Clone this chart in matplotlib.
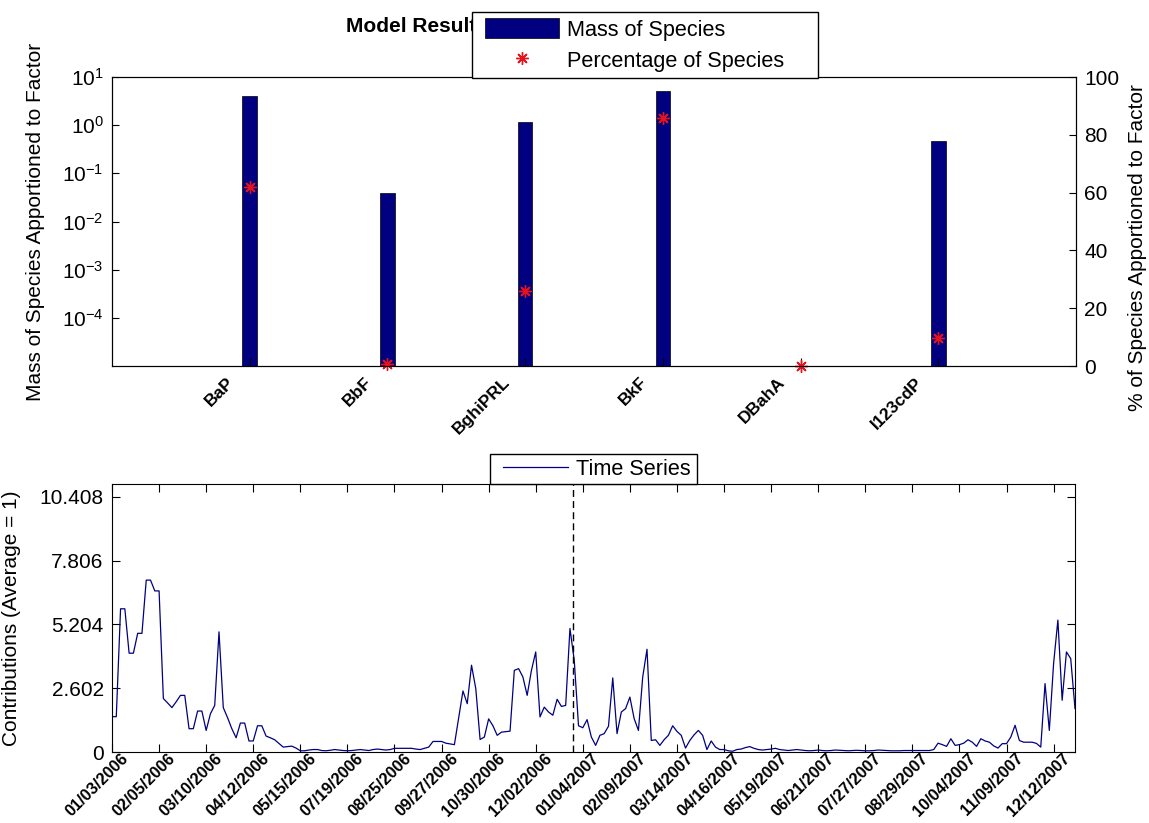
import matplotlib
matplotlib.use('Agg')
import matplotlib.pyplot as plt
import matplotlib.transforms as mtransforms
from matplotlib.legend_handler import HandlerPatch, HandlerLine2D
import numpy as np

plt.rcParams['font.family'] = ['Liberation Sans', 'DejaVu Sans']
plt.rcParams['mathtext.default'] = 'regular'

# ---------------- data ----------------
species = ['BaP', 'BbF', 'BghiPRL', 'BkF', 'DBahA', 'I123cdP']
mass_of_species = [4.0, 0.039, 1.19, 5.0, 0.0, 0.47]
percent_of_species = [62.0, 0.6, 26.0, 85.9, 0.0, 9.6]

date_labels = ['01/03/2006', '02/05/2006', '03/10/2006', '04/12/2006', '05/15/2006',
               '07/19/2006', '08/25/2006', '09/27/2006', '10/30/2006', '12/02/2006',
               '01/04/2007', '02/09/2007', '03/14/2007', '04/16/2007', '05/19/2007',
               '06/21/2007', '07/27/2007', '08/29/2007', '10/04/2007', '11/09/2007',
               '12/12/2007']
tick_step = 11

contributions = [
    1.44, 1.44, 5.84, 5.84, 4.03, 4.03, 4.84, 4.84, 7.01, 7.01,
    6.57, 6.57, 2.18, 2.00, 1.81, 2.05, 2.31, 2.31, 0.95, 0.95,
    1.67, 1.67, 0.88, 1.56, 1.90, 4.90, 1.81, 1.40, 0.95, 0.58,
    1.18, 1.18, 0.45, 0.45, 1.07, 1.07, 0.65, 0.58, 0.50, 0.35,
    0.20, 0.22, 0.24, 0.16, 0.05, 0.05, 0.08, 0.10, 0.10, 0.06,
    0.05, 0.07, 0.10, 0.08, 0.06, 0.05, 0.06, 0.08, 0.10, 0.08,
    0.06, 0.10, 0.12, 0.10, 0.08, 0.10, 0.15, 0.15, 0.15, 0.15,
    0.15, 0.12, 0.10, 0.15, 0.20, 0.43, 0.43, 0.43, 0.36, 0.33,
    0.30, 1.40, 2.49, 1.97, 3.54, 2.58, 0.51, 0.61, 1.35, 1.07,
    0.68, 0.81, 0.83, 0.85, 3.33, 3.40, 3.06, 2.31, 3.33, 4.08,
    1.43, 1.83, 1.63, 1.50, 2.15, 1.86, 1.90, 5.04, 3.74, 1.07,
    0.99, 1.32, 0.61, 0.27, 0.68, 0.75, 1.05, 3.02, 0.75, 1.63,
    1.77, 2.24, 1.36, 0.88, 3.06, 4.19, 0.47, 0.50, 0.27, 0.50,
    0.68, 1.07, 0.84, 0.68, 0.16, 0.47, 0.70, 0.88, 0.68, 0.10,
    0.45, 0.20, 0.10, 0.10, 0.05, 0.03, 0.10, 0.12, 0.18, 0.22,
    0.15, 0.10, 0.08, 0.10, 0.12, 0.15, 0.10, 0.08, 0.06, 0.08,
    0.10, 0.08, 0.06, 0.05, 0.06, 0.08, 0.06, 0.05, 0.06, 0.08,
    0.07, 0.06, 0.05, 0.06, 0.07, 0.06, 0.05, 0.05, 0.06, 0.08,
    0.07, 0.06, 0.05, 0.05, 0.05, 0.06, 0.06, 0.06, 0.06, 0.06,
    0.06, 0.06, 0.10, 0.36, 0.30, 0.23, 0.54, 0.27, 0.30, 0.36,
    0.50, 0.40, 0.23, 0.54, 0.45, 0.40, 0.25, 0.16, 0.34, 0.34,
    0.61, 1.09, 0.47, 0.40, 0.40, 0.40, 0.35, 0.20, 2.79, 0.88,
    3.61, 5.38, 2.11, 4.08, 3.81, 1.77,
]
year_break = 108.6
contrib_yticks = [0, 2.602, 5.204, 7.806, 10.408]
contrib_ylabels = ['0', '2.602', '5.204', '7.806', '10.408']

# ---------------- figure ----------------
W, H = 1149, 823
fig = plt.figure(figsize=(W / 100, H / 100), dpi=100)
navy = '#000080'
fs = 15
lfs = 15.6


def shift_labels(labels, dx_px, dy_px=0):
    off = mtransforms.ScaledTranslation(dx_px / 100, -dy_px / 100, fig.dpi_scale_trans)
    for lab in labels:
        lab.set_transform(lab.get_transform() + off)


# ---- top panel ----
ax1 = fig.add_axes([112 / W, 1 - 366 / H, 964 / W, 289 / H])
ax1.set_yscale('log')
xpos = np.arange(1, len(species) + 1)
bars = ax1.bar(xpos, mass_of_species, width=0.105, color=navy,
               edgecolor='black', linewidth=0.5)
ax1.set_ylim(1e-5, 10)
ax1.set_xlim(0, 7)
ax1.set_yticks([1e-4, 1e-3, 1e-2, 1e-1, 1e0, 1e1])
ax1.set_yticklabels(['$10^{-4}$', '$10^{-3}$', '$10^{-2}$', '$10^{-1}$',
                     '$10^{0}$', '$10^{1}$'])
ax1.yaxis.set_minor_locator(matplotlib.ticker.NullLocator())
ax1.set_xticks(xpos)
ax1.set_xticklabels(species, rotation=45, ha='right', va='center',
                    rotation_mode='anchor', fontsize=12.5, fontweight='bold')
ax1.tick_params(axis='x', direction='in', length=6, pad=10, top=False)
ax1.tick_params(axis='y', direction='in', length=5, labelsize=fs, pad=6)
shift_labels(ax1.get_xticklabels(), -18)
ax1.set_ylabel('Mass of Species Apportioned to Factor', fontsize=fs)
ax1.yaxis.set_label_coords(-0.07, 0.5)

ax1r = ax1.twinx()
stars, = ax1r.plot(xpos, percent_of_species, linestyle='none',
                   marker=(8, 2, 0), markersize=9, color='#e8101a',
                   markeredgewidth=1.0, clip_on=False)
ax1r.set_ylim(0, 100)
ax1r.set_yticks([0, 20, 40, 60, 80, 100])
ax1r.tick_params(axis='y', direction='in', length=5, labelsize=fs, pad=6)
ax1r.set_ylabel('% of Species Apportioned to Factor', fontsize=fs)
ax1r.yaxis.set_label_coords(1.054, 0.41)

for a in (ax1, ax1r):
    for s in a.spines.values():
        s.set_linewidth(0.8)

fig.text(346 / W, 1 - 26 / H, 'Model Results', fontsize=15,
         fontweight='bold', ha='left', va='center')

bar_handle = bars.patches[0]
fig.legend(handles=[bar_handle, stars], labels=['Mass of Species', 'Percentage of Species'],
           handler_map={bar_handle: HandlerPatch(xpad=0.3), stars: HandlerLine2D(xpad=0.3)},
           loc='upper left', bbox_to_anchor=(472 / W, 1 - 76 / H, 346 / W, 64 / H),
           mode='expand', borderaxespad=0, fontsize=lfs, frameon=True,
           fancybox=False, edgecolor='black', framealpha=1, borderpad=0.3,
           handlelength=3.7, handleheight=1.0, handletextpad=0.4,
           labelspacing=0.42)

# ---- bottom panel ----
ax2 = fig.add_axes([112 / W, 1 - 752 / H, 963 / W, 268 / H])
idx = np.arange(1, len(contributions) + 1)
ts_line, = ax2.plot(idx, contributions, color=navy, linewidth=0.9)
ax2.axvline(year_break, color='black', linestyle='--', linewidth=1.0,
            dashes=(5, 3))
ax2.set_xlim(1, len(contributions))
ax2.set_ylim(0, 10.93)
ax2.set_yticks(contrib_yticks)
ax2.set_yticklabels(contrib_ylabels)
ticks = 1 + tick_step * np.arange(len(date_labels))
ax2.set_xticks(ticks)
ax2.set_xticklabels(date_labels, rotation=45, ha='right', va='center',
                    rotation_mode='anchor', fontsize=11.8, fontweight='bold')
ax2.tick_params(axis='x', direction='in', length=6, top=True, pad=3)
ax2.tick_params(axis='y', direction='in', length=6, right=True,
                labelsize=fs, pad=6)
shift_labels(ax2.get_xticklabels(), 14)
ax2.set_ylabel('Contributions (Average = 1)', fontsize=fs)
ax2.yaxis.set_label_coords(-0.095, 0.5)
for s in ax2.spines.values():
    s.set_linewidth(0.8)

fig.legend(handles=[ts_line], labels=['Time Series'], loc='lower left',
           handler_map={ts_line: HandlerLine2D(xpad=0.4)},
           bbox_to_anchor=(490 / W, 1 - 484 / H, 207 / W, 29 / H),
           mode='expand', borderaxespad=0, fontsize=lfs, frameon=True,
           fancybox=False, edgecolor='black', framealpha=1, borderpad=0.2,
           handlelength=3.4, handletextpad=0.35)

fig.savefig('out.png', dpi=100)
